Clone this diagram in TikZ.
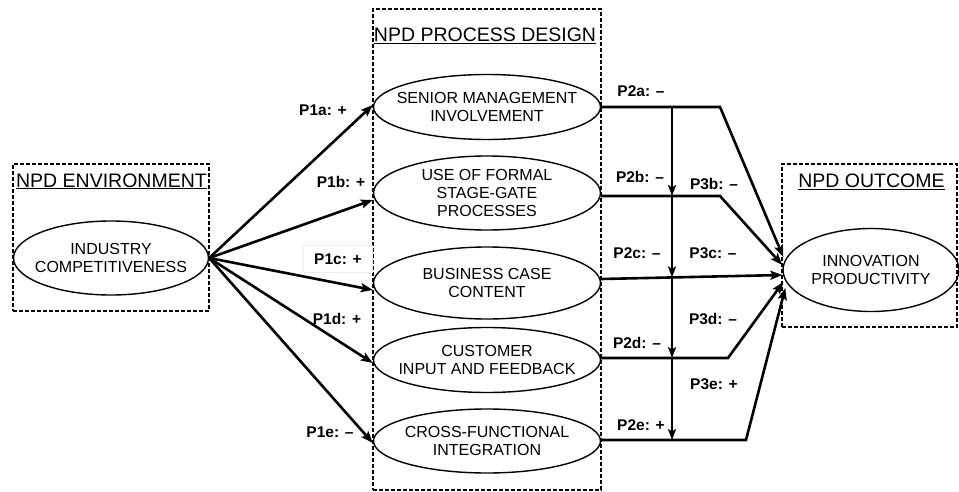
\documentclass[tikz,border=0pt]{standalone}
\usepackage{fontspec}
\setmainfont{Liberation Sans}
\usetikzlibrary{arrows.meta,shapes.geometric,calc}
\begin{document}
\begin{tikzpicture}[x=1pt,y=-1pt,
  ell/.style={draw,ellipse,line width=1.4pt,inner sep=0pt},
  etxt/.style={inner sep=0pt,align=center,font=\fontsize{16}{18}\selectfont},
  dbox/.style={draw,line width=1.2pt,dash pattern=on 4pt off 2pt,inner sep=0pt},
  ttl/.style={anchor=base,inner sep=0pt,font=\fontsize{19.5}{22}\selectfont},
  lab/.style={inner sep=1pt,font=\fontsize{15.5}{17}\selectfont\bfseries},
  arr/.style={line width=2.6pt,-{Stealth[length=12pt,width=9pt,inset=2.5pt]}},
  ln/.style={line width=2.6pt,line join=miter},
  varr/.style={line width=2.2pt,-{Stealth[length=11pt,width=8pt,inset=2.5pt]}}
]
\useasboundingbox (0,0) rectangle (959,492);

% boxes
\node[dbox,minimum width=196pt,minimum height=147pt] (envbox) at (111,237.5) {};
\node[dbox,minimum width=228pt,minimum height=481pt] (pdbox) at (487,249.5) {};
\node[dbox,minimum width=175pt,minimum height=163pt] (outbox) at (869.5,245.5) {};

% titles
\node[ttl] (envt) at (111.5,187) {\underline{NPD ENVIRONMENT}};
\node[ttl] (pdt) at (485,42) {\underline{NPD PROCESS DESIGN}};
\node[ttl] (outt) at (871.5,188) {\underline{NPD OUTCOME}};

% ellipses
\node[ell,minimum width=195pt,minimum height=74pt] (ic) at (111,258) {};
\node[ell,minimum width=227pt,minimum height=65pt] (sm) at (487,107) {};
\node[ell,minimum width=227pt,minimum height=74pt] (fg) at (487,193) {};
\node[ell,minimum width=227pt,minimum height=72pt] (bc) at (487,283) {};
\node[ell,minimum width=227pt,minimum height=65pt] (ci) at (487,360) {};
\node[ell,minimum width=227pt,minimum height=64pt] (cf) at (487,441) {};
\node[ell,minimum width=176pt,minimum height=83pt] (ip) at (871,270) {};

\node[etxt] (ict) at (ic) {INDUSTRY\\COMPETITIVENESS};
\node[etxt] (smt) at (sm) {SENIOR MANAGEMENT\\INVOLVEMENT};
\node[etxt] (fgt) at (fg) {USE OF FORMAL\\STAGE-GATE\\PROCESSES};
\node[etxt] (bct) at (bc) {BUSINESS CASE\\CONTENT};
\node[etxt] (cit) at (ci) {CUSTOMER\\INPUT AND FEEDBACK};
\node[etxt] (cft) at (cf) {CROSS-FUNCTIONAL\\INTEGRATION};
\node[etxt] (ipt) at (ip) {INNOVATION\\PRODUCTIVITY};

% left arrows
\draw[arr] (ic.east) -- ([yshift=2pt]sm.west);
\draw[arr] (ic.east) -- ([yshift=-7pt]fg.west);
\draw[arr] (ic.east) -- ([yshift=-7pt]bc.west);
\draw[arr] (ic.east) -- ([yshift=-3pt]ci.west);
\draw[arr] (ic.east) -- ([yshift=-2pt]cf.west);

% right connectors
\coordinate (ka) at (720,107);
\coordinate (kb) at (720,196);
\coordinate (kd) at (728,358);
\coordinate (ke) at (746,440);
\draw[ln,arr] (sm.east) -- (ka) -- ([xshift=1pt,yshift=13pt]ip.west);
\draw[ln,arr] ([yshift=-3pt]fg.east) -- (kb) -- ([yshift=5pt]ip.west);
\draw[arr] ([yshift=4pt]bc.east) -- ([yshift=-5pt]ip.west);
\draw[ln,arr] ([yshift=2pt]ci.east) -- (kd) -- ([xshift=1pt,yshift=-12pt]ip.west);
\draw[ln,arr] ([yshift=1pt]cf.east) -- (ke) -- ([xshift=3pt,yshift=-18pt]ip.west);

% vertical moderation line
\coordinate (v1) at (672,107);
\coordinate (v2) at (672,196);
\coordinate (v3) at (672,277.4);
\coordinate (v4) at (672,358);
\coordinate (v5) at (672,440);
\draw[varr] (v1) -- (v2);
\draw[varr] (v2) -- (v3);
\draw[varr] (v3) -- (v4);
\draw[varr] (v4) -- (v5);

% labels
\node[lab] (l1a) at (323,110) {P1a: +};
\node[lab] (l1b) at (341,182) {P1b: +};
\node[lab,fill=white,draw=black!7,line width=0.6pt,minimum width=69pt,minimum height=27pt] (l1c) at (338,259) {P1c: +};
\node[lab] (l1d) at (337,319) {P1d: +};
\node[lab] (l1e) at (330,432) {P1e: --};
\node[lab] (l2a) at (641,91) {P2a: --};
\node[lab] (l2b) at (640,177) {P2b: --};
\node[lab] (l3b) at (714,184) {P3b: --};
\node[lab] (l2c) at (637,253) {P2c: --};
\node[lab] (l3c) at (713,253) {P3c: --};
\node[lab] (l3d) at (713,319) {P3d: --};
\node[lab] (l2d) at (637,343) {P2d: --};
\node[lab] (l3e) at (714,384) {P3e: +};
\node[lab] (l2e) at (641,425) {P2e: +};
\end{tikzpicture}
\end{document}
